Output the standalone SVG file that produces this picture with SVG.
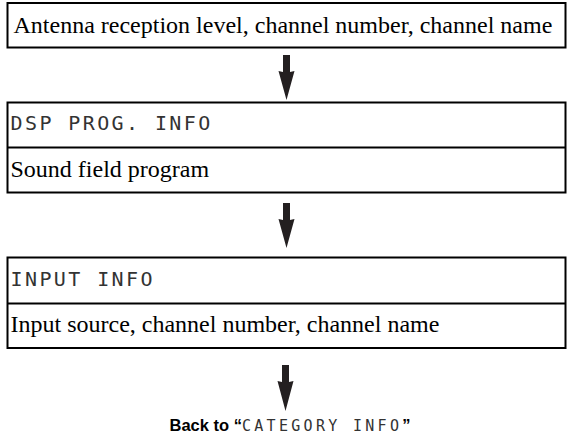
<svg xmlns="http://www.w3.org/2000/svg" width="567" height="444" viewBox="0 0 567 444">
  <style>
    .box { fill: #ffffff; stroke: #000000; stroke-width: 2; }
    .div { stroke: #000000; stroke-width: 2; fill: none; }
    .serif { font-family: "Liberation Serif", "Times New Roman", serif; font-size: 24px; fill: #000000; }
    .lcd { font-family: "DejaVu Sans Mono", "Liberation Mono", monospace; font-size: 20px; letter-spacing: 2.4px; fill: #333333; }
    .lcdsm { font-family: "DejaVu Sans Mono", "Liberation Mono", monospace; font-size: 15px; letter-spacing: 3.3px; fill: #333333; }
    .bold { font-family: "Liberation Sans", Arial, sans-serif; font-size: 16.5px; font-weight: bold; fill: #000000; }
    .arrow { fill: #231f20; stroke: none; }
  </style>

  <g id="node-antenna">
    <rect class="box" x="7.5" y="3" width="558" height="44.5"/>
    <text class="serif" x="13.5" y="33">Antenna reception level, channel number, channel name</text>
  </g>

  <g id="node-dsp-prog-info">
    <rect class="box" x="7.5" y="102.5" width="558" height="90"/>
    <line class="div" x1="7.5" y1="147.5" x2="565.5" y2="147.5"/>
    <text class="lcd" x="10.5" y="129.5">DSP PROG. INFO</text>
    <text class="serif" x="10.5" y="177">Sound field program</text>
  </g>

  <g id="node-input-info">
    <rect class="box" x="7.5" y="257.5" width="558" height="90.5"/>
    <line class="div" x1="7.5" y1="303.5" x2="565.5" y2="303.5"/>
    <text class="lcd" x="10.5" y="285.5">INPUT INFO</text>
    <text class="serif" x="10.5" y="332">Input source, channel number, channel name</text>
  </g>

  <g id="node-back-to">
    <text x="290" y="431" text-anchor="middle"><tspan class="bold">Back to “</tspan><tspan class="lcdsm">CATEGORY INFO</tspan><tspan class="bold">”</tspan></text>
  </g>

  <g id="connectors">
    <path class="arrow" d="M283,55 L290,55 L290,72 L294.5,71 L286.5,100 L278.5,71 L283,72 Z"/>
    <path class="arrow" d="M283,203 L290,203 L290,220 L294.5,219 L286.5,248 L278.5,219 L283,220 Z"/>
    <path class="arrow" d="M282,365 L289,365 L289,382 L293.5,381 L285.5,411 L277.5,381 L282,382 Z"/>
  </g>
</svg>
